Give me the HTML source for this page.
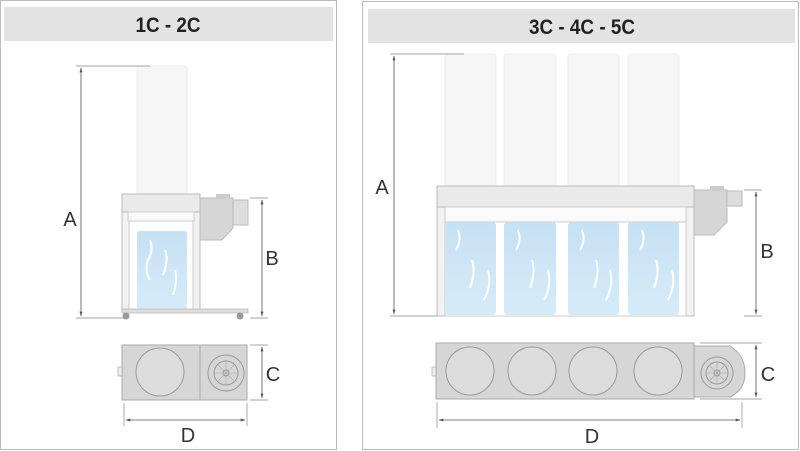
<!DOCTYPE html>
<html><head><style>
html,body{margin:0;padding:0;background:#fff;}
svg{display:block;}
text{font-family:"Liberation Sans",sans-serif;}
</style></head><body>
<svg width="800" height="451" viewBox="0 0 800 451" xmlns="http://www.w3.org/2000/svg">
<defs>
<linearGradient id="blue" x1="0" y1="0" x2="0" y2="1"><stop offset="0" stop-color="#c6e1f4"/><stop offset="1" stop-color="#d6ebf8"/></linearGradient>
<marker id="ar" viewBox="0 0 10 10" refX="9" refY="5" markerWidth="6" markerHeight="6" orient="auto-start-reverse"><path d="M0,2 L10,5 L0,8 z" fill="#555"/></marker>
</defs>
<rect x="0.5" y="0.5" width="336" height="449" fill="#fff" stroke="#bbb"/>
<rect x="4" y="7" width="329" height="34" fill="#e3e3e3"/>
<text x="168" y="32" text-anchor="middle" font-size="21" font-weight="bold" fill="#222" transform="translate(168 0) scale(0.9 1) translate(-168 0)">1C - 2C</text>
<rect x="362.5" y="1.5" width="436" height="448" fill="#fff" stroke="#bbb"/>
<rect x="368" y="9" width="427" height="34" fill="#e3e3e3"/>
<text x="582" y="34" text-anchor="middle" font-size="21" font-weight="bold" fill="#222" transform="translate(582 0) scale(0.9 1) translate(-582 0)">3C - 4C - 5C</text>

<!-- LEFT side view -->
<rect x="137" y="66" width="50" height="130" rx="3" fill="#f6f6f6" stroke="#eee"/>
<rect x="122" y="194" width="78" height="118" fill="#f2f2f2" stroke="#bbb"/>
<rect x="129" y="198" width="64" height="114" fill="#fff" stroke="#ccc"/>
<rect x="122" y="194" width="78" height="18" fill="#eaeaea" stroke="#bbb"/>
<rect x="128" y="212" width="66" height="9" fill="#fafafa" stroke="#ccc"/>
<rect x="137" y="231" width="50" height="79" rx="3" fill="url(#blue)"/>
<path d="M150,240 q4,10 -2,20 q-4,10 2,20 M165,250 q4,10 -2,25 M175,270 q3,10 -2,25" stroke="#fff" stroke-width="2" fill="none"/>
<rect x="122" y="309" width="126" height="4" fill="#ddd" stroke="#aaa" stroke-width="0.6"/>
<circle cx="126" cy="316" r="3.5" fill="#999"/><circle cx="240" cy="316" r="3.5" fill="#999"/>
<path d="M200,198 H233 V228 L222,240 H200 Z" fill="#d6d6d6" stroke="#bbb"/>
<rect x="216" y="194" width="14" height="5" fill="#ccc"/>
<rect x="233" y="200" width="15" height="25" fill="#ddd" stroke="#bbb"/>
<line x1="76" y1="66" x2="150" y2="66" stroke="#888" stroke-width="0.7"/>
<line x1="76" y1="318" x2="125" y2="318" stroke="#888" stroke-width="0.7"/>
<line x1="81" y1="68" x2="81" y2="316" stroke="#555" stroke-width="0.8" marker-start="url(#ar)" marker-end="url(#ar)"/>
<line x1="250" y1="198" x2="268" y2="198" stroke="#888" stroke-width="0.7"/>
<line x1="250" y1="318" x2="268" y2="318" stroke="#888" stroke-width="0.7"/>
<line x1="262" y1="200" x2="262" y2="316" stroke="#555" stroke-width="0.8" marker-start="url(#ar)" marker-end="url(#ar)"/>
<text x="70" y="226" text-anchor="middle" font-size="20" fill="#333">A</text>
<text x="272" y="265" text-anchor="middle" font-size="20" fill="#333">B</text>
<!-- LEFT top view -->
<rect x="122" y="345" width="78" height="55" fill="#d6d6d6" stroke="#aaa"/>
<rect x="200" y="345" width="47" height="55" fill="#d6d6d6" stroke="#aaa"/>
<circle cx="160" cy="372" r="24" fill="#dcdcdc" stroke="#999"/>
<circle cx="226" cy="373" r="18" fill="none" stroke="#999"/>
<circle cx="226" cy="373" r="12" fill="none" stroke="#999"/>
<circle cx="226" cy="373" r="3" fill="none" stroke="#999"/>
<path d="M214,373 H238 M226,361 V385 M218,365 L234,381 M234,365 L218,381" stroke="#aaa" stroke-width="0.6"/>
<rect x="118" y="367" width="4" height="9" fill="#eee" stroke="#999" stroke-width="0.6"/>
<line x1="250" y1="345" x2="268" y2="345" stroke="#888" stroke-width="0.7"/>
<line x1="250" y1="400" x2="268" y2="400" stroke="#888" stroke-width="0.7"/>
<line x1="262" y1="347" x2="262" y2="398" stroke="#555" stroke-width="0.8" marker-start="url(#ar)" marker-end="url(#ar)"/>
<text x="273" y="381" text-anchor="middle" font-size="20" fill="#333">C</text>
<line x1="124" y1="403" x2="124" y2="426" stroke="#888" stroke-width="0.7"/>
<line x1="247" y1="403" x2="247" y2="426" stroke="#888" stroke-width="0.7"/>
<line x1="126" y1="420" x2="245" y2="420" stroke="#555" stroke-width="0.8" marker-start="url(#ar)" marker-end="url(#ar)"/>
<text x="188" y="442" text-anchor="middle" font-size="20" fill="#333">D</text>

<!-- RIGHT side view -->
<g fill="#f6f6f6" stroke="#eee">
<rect x="445" y="54" width="51" height="133" rx="3"/>
<rect x="504" y="54" width="52" height="133" rx="3"/>
<rect x="568" y="54" width="51" height="133" rx="3"/>
<rect x="628" y="54" width="51" height="133" rx="3"/>
</g>
<rect x="437" y="186" width="257" height="130" fill="#f2f2f2" stroke="#bbb"/>
<rect x="445" y="190" width="241" height="126" fill="#fff" stroke="#ccc"/>
<rect x="437" y="186" width="257" height="21" fill="#eaeaea" stroke="#bbb"/>
<rect x="445" y="207" width="241" height="15" fill="#fafafa" stroke="#ccc"/>
<g fill="url(#blue)">
<rect x="445" y="222" width="51" height="93" rx="3"/>
<rect x="504" y="222" width="52" height="93" rx="3"/>
<rect x="568" y="222" width="51" height="93" rx="3"/>
<rect x="628" y="222" width="51" height="93" rx="3"/>
</g>
<g stroke="#fff" stroke-width="2" fill="none">
<path d="M458,230 q4,10 -2,20 M472,260 q4,12 -2,28 M488,270 q4,15 -4,30"/>
<path d="M518,230 q4,10 -2,20 M532,260 q4,12 -2,28 M548,270 q4,15 -4,30"/>
<path d="M582,230 q4,10 -2,20 M596,260 q4,12 -2,28 M610,270 q4,15 -4,30"/>
<path d="M642,230 q4,10 -2,20 M656,260 q4,12 -2,28 M672,270 q4,15 -4,30"/>
</g>
<path d="M694,190 H727 V222 L714,235 H694 Z" fill="#d6d6d6" stroke="#bbb"/>
<rect x="710" y="186" width="14" height="5" fill="#ccc"/>
<rect x="727" y="191" width="15" height="15" fill="#ddd" stroke="#bbb"/>
<line x1="390" y1="54" x2="464" y2="54" stroke="#888" stroke-width="0.7"/>
<line x1="390" y1="316" x2="437" y2="316" stroke="#888" stroke-width="0.7"/>
<line x1="394" y1="56" x2="394" y2="314" stroke="#555" stroke-width="0.8" marker-start="url(#ar)" marker-end="url(#ar)"/>
<line x1="744" y1="190" x2="762" y2="190" stroke="#888" stroke-width="0.7"/>
<line x1="744" y1="316" x2="762" y2="316" stroke="#888" stroke-width="0.7"/>
<line x1="756" y1="192" x2="756" y2="314" stroke="#555" stroke-width="0.8" marker-start="url(#ar)" marker-end="url(#ar)"/>
<text x="382" y="194" text-anchor="middle" font-size="20" fill="#333">A</text>
<text x="767" y="258" text-anchor="middle" font-size="20" fill="#333">B</text>
<!-- RIGHT top view -->
<rect x="436" y="343" width="258" height="56" fill="#d6d6d6" stroke="#aaa"/>
<path d="M694,346 H730 Q745,355 745,373 Q745,390 730,397 H694 Z" fill="#d6d6d6" stroke="#aaa"/>
<g fill="#dcdcdc" stroke="#999">
<circle cx="470" cy="371" r="24"/><circle cx="532" cy="371" r="24"/><circle cx="593" cy="371" r="24"/><circle cx="658" cy="371" r="24"/>
</g>
<circle cx="717" cy="373" r="16" fill="none" stroke="#999"/>
<circle cx="717" cy="373" r="11" fill="none" stroke="#999"/>
<circle cx="717" cy="373" r="3" fill="none" stroke="#999"/>
<path d="M706,373 H728 M717,362 V384 M709,365 L725,381 M725,365 L709,381" stroke="#aaa" stroke-width="0.6"/>
<rect x="432" y="367" width="4" height="9" fill="#eee" stroke="#999" stroke-width="0.6"/>
<line x1="700" y1="343" x2="762" y2="343" stroke="#888" stroke-width="0.7"/>
<line x1="700" y1="399" x2="762" y2="399" stroke="#888" stroke-width="0.7"/>
<line x1="756" y1="345" x2="756" y2="397" stroke="#555" stroke-width="0.8" marker-start="url(#ar)" marker-end="url(#ar)"/>
<text x="768" y="381" text-anchor="middle" font-size="20" fill="#333">C</text>
<line x1="437" y1="402" x2="437" y2="428" stroke="#888" stroke-width="0.7"/>
<line x1="742" y1="402" x2="742" y2="428" stroke="#888" stroke-width="0.7"/>
<line x1="439" y1="420" x2="740" y2="420" stroke="#555" stroke-width="0.8" marker-start="url(#ar)" marker-end="url(#ar)"/>
<text x="592" y="443" text-anchor="middle" font-size="20" fill="#333">D</text>
</svg>
</body></html>
